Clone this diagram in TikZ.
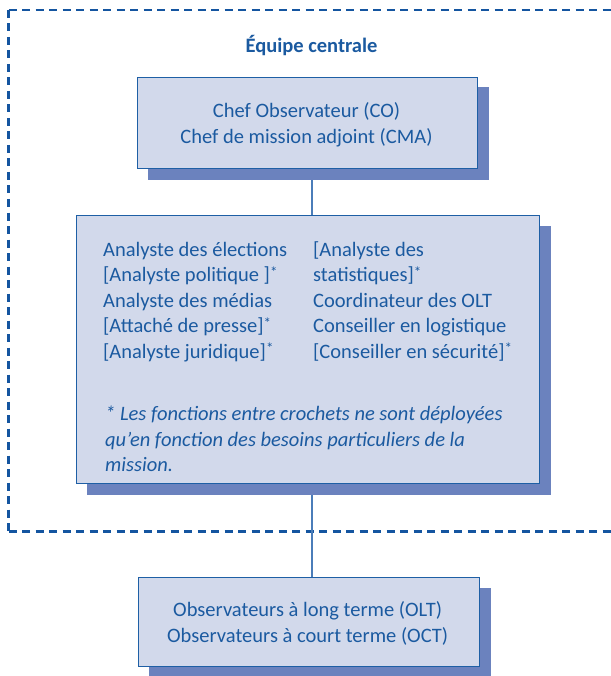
\documentclass[tikz,border=0pt]{standalone}
\usepackage{fontspec}
\setmainfont{Carlito}
\usetikzlibrary{backgrounds}
\definecolor{txt}{RGB}{27,90,160}
\definecolor{boxfill}{RGB}{210,217,235}
\definecolor{boxline}{RGB}{30,95,165}
\definecolor{shade}{RGB}{107,130,190}
\definecolor{conn}{RGB}{75,125,185}
\definecolor{framec}{RGB}{20,85,160}
\newcommand{\fnmarkstar}{\raisebox{4.5pt}{\fontsize{15}{15}\selectfont *}}
\begin{document}
\begin{tikzpicture}[x=1pt,y=-1pt,
  box/.style={draw=boxline, line width=1.3pt, fill=boxfill, inner sep=0pt, anchor=north west},
  shadowbox/.style={fill=shade},
  t/.style={text=txt, font=\fontsize{20.5}{25.5}\selectfont, inner sep=0pt, anchor=base},
  tl/.style={t, anchor=base west},
  fn/.style={tl, font=\fontsize{20.5}{25.5}\selectfont\itshape},
  connector/.style={draw=conn, line width=1.5pt},
  teamframe/.style={draw=framec, line width=2.6pt, dash pattern=on 8pt off 5.5pt}
]
\useasboundingbox (0,0) rectangle (610,676);

% boxes
\node[box, minimum width=340pt, minimum height=91pt] (b1) at (137,77) {};
\node[box, minimum width=463pt, minimum height=268pt] (b2) at (76,215) {};
\node[box, minimum width=341pt, minimum height=89pt] (b3) at (138,577) {};

% title
\node[t, font=\fontsize{20.5}{25.5}\selectfont\bfseries] (title) at (311.5,52.7) {Équipe centrale};

% box 1 text
\node[t] (c1) at (306.5,117.3) {Chef Observateur (CO)};
\node[t] (c2) at (306.5,143.3) {Chef de mission adjoint (CMA)};

% box 2 left column
\node[tl] (l1) at (103,256.5) {Analyste des élections};
\node[tl] (l2) at (103,281.9) {[Analyste politique ]\fnmarkstar};
\node[tl] (l3) at (103,307.3) {Analyste des médias};
\node[tl] (l4) at (103,332.7) {[Attaché de presse]\fnmarkstar};
\node[tl] (l5) at (103,358.1) {[Analyste juridique]\fnmarkstar};
% box 2 right column
\node[tl] (r1) at (313,256.5) {[Analyste des};
\node[tl] (r2) at (313,281.9) {statistiques]\fnmarkstar};
\node[tl] (r3) at (313,307.3) {Coordinateur des OLT};
\node[tl] (r4) at (313,332.7) {Conseiller en logistique};
\node[tl] (r5) at (313,358.1) {[Conseiller en sécurité]\fnmarkstar};
% footnote
\node[fn] (f1) at (105,420.7) {* Les fonctions entre crochets ne sont déployées};
\node[fn] (f2) at (105,446) {qu’en fonction des besoins particuliers de la};
\node[fn] (f3) at (105,471.3) {mission.};

% box 3 text
\node[t] (o1) at (307.6,616.7) {Observateurs à long terme (OLT)};
\node[t] (o2) at (307.6,642.3) {Observateurs à court terme (OCT)};

\begin{pgfonlayer}{background}
  % dashed team frame (open on the right)
  \coordinate (fa) at (612,10);
  \coordinate (fb) at (8.7,10);
  \coordinate (fc) at (8.7,531.3);
  \coordinate (fd) at (612,531.3);
  \draw[teamframe] (fb) -- (fa);
  \draw[teamframe] (fb) -- (fc);
  \draw[teamframe] (fc) -- (fd);
  % connectors
  \coordinate (cx) at (312,0);
  \draw[connector] (b1.south -| cx) -- (b2.north -| cx);
  \draw[connector] (b2.south -| cx) -- (b3.north -| cx);
  % shadows
  \foreach \b in {b1,b2,b3}{
    \fill[shadowbox] ([xshift=10.5pt,yshift=-10.5pt]\b.south west) rectangle ([xshift=10.5pt,yshift=-10.5pt]\b.north east);
  }
\end{pgfonlayer}
\end{tikzpicture}
\end{document}
